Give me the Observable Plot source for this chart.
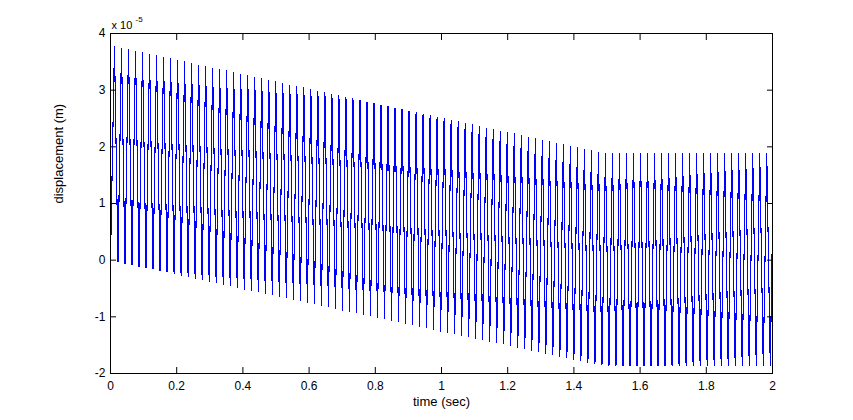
<!DOCTYPE html>
<html><head><meta charset="utf-8">
<script src="https://cdn.jsdelivr.net/npm/d3@7"></script>
<script src="https://cdn.jsdelivr.net/npm/@observablehq/plot@0.6"></script>
<style>html,body{margin:0;padding:0;background:#fff}svg{display:block}</style>
</head><body><div id="chart"></div>
<script>
// displacement in units of 1e-5 m
// peak value of each oscillation cycle
const peaks = [3.77,3.74,3.72,3.69,3.66,3.63,3.61,3.58,3.55,3.53,
3.50,3.47,3.44,3.42,3.39,3.36,3.34,3.31,3.28,3.26,
3.23,3.20,3.17,3.15,3.12,3.09,3.07,3.04,3.01,2.98,
2.96,2.93,2.90,2.88,2.85,2.82,2.79,2.77,2.74,2.71,
2.69,2.66,2.63,2.60,2.58,2.55,2.52,2.50,2.47,2.44,
2.42,2.39,2.36,2.33,2.31,2.28,2.25,2.23,2.20,2.17,
2.14,2.12,2.09,2.06,2.04,2.01,1.98,1.95,1.93,1.90,
1.88,1.88,1.88,1.88,1.88,1.88,1.88,1.88,1.88,1.88,
1.88,1.88,1.88,1.88,1.88,1.88,1.88,1.88,1.88,1.88,
1.88,1.88,1.88,1.88];
// trough value of each oscillation cycle
const troughs = [-0.03,-0.06,-0.08,-0.11,-0.14,-0.16,-0.19,-0.21,-0.24,-0.27,
-0.29,-0.32,-0.35,-0.37,-0.40,-0.43,-0.45,-0.48,-0.51,-0.53,
-0.56,-0.59,-0.61,-0.64,-0.66,-0.69,-0.72,-0.74,-0.77,-0.80,
-0.82,-0.85,-0.88,-0.90,-0.93,-0.96,-0.98,-1.01,-1.03,-1.06,
-1.09,-1.11,-1.14,-1.17,-1.19,-1.22,-1.25,-1.27,-1.30,-1.33,
-1.35,-1.38,-1.40,-1.43,-1.46,-1.48,-1.51,-1.54,-1.56,-1.59,
-1.62,-1.64,-1.67,-1.70,-1.72,-1.75,-1.77,-1.80,-1.83,-1.85,
-1.86,-1.86,-1.86,-1.86,-1.86,-1.86,-1.86,-1.86,-1.86,-1.86,
-1.86,-1.86,-1.86,-1.86,-1.86,-1.86,-1.86,-1.86,-1.86,-1.86,
-1.86,-1.86,-1.86,-1.86];
const period = 0.02119;       // s, oscillation period
const firstPeakTime = 0.012;  // s
const startTime = 0, startValue = 0.0;
const endTime = 2.0, endValue = 0.59;
const xTicks = [0, 0.2, 0.4, 0.6, 0.8, 1, 1.2, 1.4, 1.6, 1.8, 2];
const yTicks = [-2, -1, 0, 1, 2, 3, 4];
const xLabel = "time (sec)";
const yLabel = "displacement (m)";

// build the sampled series from the arrays
const series = [{t: startTime, v: startValue}];
peaks.forEach((p, k) => {
  series.push({t: firstPeakTime + k * period, v: p});
  series.push({t: firstPeakTime + (k + 0.5) * period, v: troughs[k]});
});
series.push({t: endTime, v: endValue});

const fmt = d => String(d);
const blank = () => "";
const font = "'Liberation Sans', Arial, Helvetica, sans-serif";

const chart = Plot.plot({
  width: 853, height: 420,
  marginLeft: 110, marginRight: 81, marginTop: 33, marginBottom: 47,
  style: {fontFamily: font, fontSize: "12px", color: "black", background: "white", overflow: "visible"},
  x: {domain: [0, 2]},
  y: {domain: [-2, 4]},
  marks: [
    Plot.line(series, {x: "t", y: "v", stroke: "#0000ff", strokeWidth: 1.1, shapeRendering: "crispEdges"}),
    Plot.frame({stroke: "black", strokeWidth: 1}),
    // tick labels
    Plot.axisX({ticks: xTicks, anchor: "bottom", tickSize: 0, tickPadding: 8, tickFormat: fmt, label: null}),
    Plot.axisY({ticks: yTicks, anchor: "left", tickSize: 0, tickPadding: 5, tickFormat: fmt, label: null}),
    // inward ticks on all four sides
    Plot.axisX({ticks: xTicks, anchor: "bottom", tickSize: -6, tickFormat: blank, label: null}),
    Plot.axisX({ticks: xTicks, anchor: "top", tickSize: -6, tickFormat: blank, label: null}),
    Plot.axisY({ticks: yTicks, anchor: "left", tickSize: -6, tickFormat: blank, label: null}),
    Plot.axisY({ticks: yTicks, anchor: "right", tickSize: -6, tickFormat: blank, label: null}),
    // axis titles
    Plot.text([xLabel], {frameAnchor: "bottom", dy: 32, text: d => d, fontSize: 13, fill: "black"}),
    Plot.text([yLabel], {frameAnchor: "left", dx: -52, rotate: -90, text: d => d, fontSize: 13, fill: "black"}),
    // exponent
    Plot.text(["x 10"], {frameAnchor: "top-left", dx: 1, dy: -12, text: d => d, textAnchor: "start", fontSize: 11, fill: "black"}),
    Plot.text(["-5"], {frameAnchor: "top-left", dx: 25, dy: -17, text: d => d, textAnchor: "start", fontSize: 8, fill: "black"})
  ]
});
document.getElementById("chart").appendChild(chart);
</script>
</body></html>
